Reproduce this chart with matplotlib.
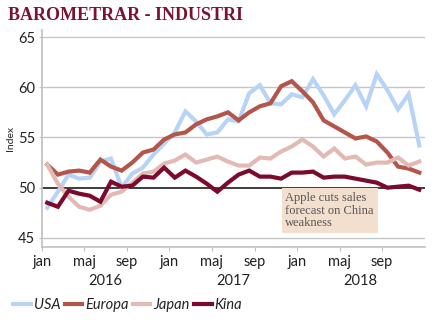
import matplotlib
matplotlib.use("Agg")
import matplotlib.pyplot as plt
import matplotlib.transforms as mtransforms

# data: monthly index, jan 2016 - dec 2018
months = list(range(36))
usa = [48.0, 49.6, 51.3, 50.9, 51.0, 52.6, 52.9, 50.0, 51.4, 52.0, 53.3, 54.4,
       55.5, 57.6, 56.6, 55.3, 55.5, 56.8, 56.6, 59.4, 60.2, 58.4, 58.3, 59.3,
       59.0, 60.8, 59.2, 57.3, 58.7, 60.2, 58.1, 61.3, 59.7, 57.8, 59.3, 54.2]
europa = [52.3, 51.3, 51.6, 51.7, 51.5, 52.8, 52.1, 51.7, 52.5, 53.5, 53.8, 54.8,
          55.3, 55.5, 56.3, 56.8, 57.1, 57.5, 56.7, 57.5, 58.1, 58.4, 60.1, 60.6,
          59.6, 58.5, 56.7, 56.1, 55.5, 54.9, 55.1, 54.6, 53.5, 52.1, 51.9, 51.5]
japan = [52.3, 50.4, 49.1, 48.1, 47.8, 48.2, 49.3, 49.6, 50.5, 51.4, 51.6, 52.4,
         52.7, 53.3, 52.5, 52.8, 53.1, 52.6, 52.2, 52.2, 53.0, 52.9, 53.6, 54.1,
         54.8, 54.1, 53.1, 53.9, 52.9, 53.1, 52.3, 52.5, 52.5, 53.0, 52.2, 52.6]
kina = [48.5, 48.1, 49.7, 49.4, 49.2, 48.6, 50.6, 50.1, 50.2, 51.1, 51.0, 52.0,
        51.0, 51.7, 51.1, 50.4, 49.6, 50.5, 51.3, 51.7, 51.1, 51.1, 50.9, 51.5,
        51.5, 51.6, 51.0, 51.1, 51.1, 50.9, 50.7, 50.5, 50.0, 50.1, 50.2, 49.8]
month_labels = ["jan", "maj", "sep"] * 3
years = ["2016", "2017", "2018"]

colors = {"USA": "#b7d4f6", "Europa": "#b4554b", "Japan": "#e3bab3", "Kina": "#7b0a2c"}
sans = "Lato"
serif = "Liberation Serif"

fig = plt.figure(figsize=(4.46, 3.26), dpi=100)
ax = fig.add_axes([0.094, 0.241, 0.858, 0.667])

x = [m + 0.5 for m in months]
for name, vals in [("USA", usa), ("Europa", europa), ("Japan", japan), ("Kina", kina)]:
    ax.plot(x, vals, color=colors[name], lw=3, label=name, solid_joinstyle="miter")

ax.set_xlim(0, 36)
ax.set_ylim(44.05, 65.7)

# gridlines and the 50-line
for yv in [45, 55, 60, 65]:
    ax.axhline(yv, color="#c6c6c6", lw=1, zorder=0)
ax.axhline(50, color="#3c3c3c", lw=1.4, zorder=1)

ax.set_yticks([45, 50, 55, 60, 65])
ax.set_xticks(range(0, 36, 4))
ax.set_xticklabels(month_labels)
ax.tick_params(axis="both", colors="#bfbfbf", labelcolor="#222222", labelsize=10.5, length=3)
ax.tick_params(axis="x", pad=2.5)
ax.tick_params(axis="y", length=2, pad=3)
for lab in ax.get_xticklabels() + ax.get_yticklabels():
    lab.set_fontfamily(sans)

for s in ["top", "right"]:
    ax.spines[s].set_visible(False)
for s in ["left", "bottom"]:
    ax.spines[s].set_color("#bfbfbf")
    ax.spines[s].set_linewidth(1.2)

ax.set_ylabel("Index", fontsize=7.5, fontfamily=sans, color="#222222", labelpad=2)

# year labels
trans = mtransforms.blended_transform_factory(ax.transData, fig.transFigure)
for i, yr in enumerate(years):
    ax.text(6 + 12 * i, 1 - 281 / 326, yr, transform=trans, ha="center", va="center",
            fontsize=10.5, fontfamily=sans, color="#222222")

# annotation
ax.text(22.9, 49.55, "Apple cuts sales\nforecast on China\nweakness", ha="left", va="top",
        fontsize=9, fontfamily=serif, color="#555555", linespacing=1.05,
        bbox=dict(boxstyle="square,pad=0.3", fc="#f3dfcd", ec="none"))

fig.text(0.018, 1 - 16 / 326, "BAROMETRAR - INDUSTRI", fontsize=13, fontweight="bold",
         fontfamily=serif, color="#7a1230", va="center", ha="left")

leg = fig.legend(loc="center left", bbox_to_anchor=(0.0, 1 - 305 / 326), ncol=4, frameon=False,
                 handlelength=1.2, handletextpad=0.2, columnspacing=0.3,
                 prop={"family": sans, "style": "italic", "size": 10.5})
for t in leg.get_texts():
    t.set_color("#222222")

fig.savefig("out.png", dpi=100)
